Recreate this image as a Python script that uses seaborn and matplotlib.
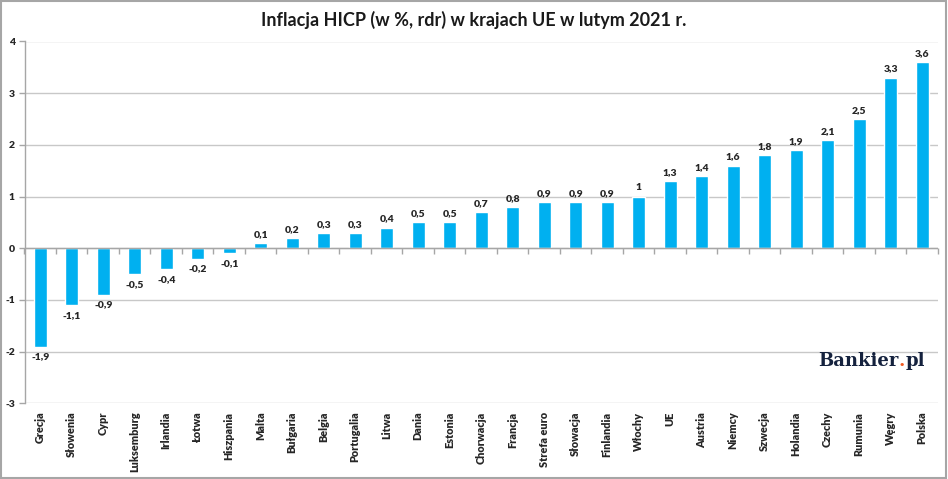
import matplotlib
matplotlib.use("Agg")
import matplotlib.pyplot as plt
import seaborn as sns
import pandas as pd
import numpy as np

countries = ["Grecja", "Słowenia", "Cypr", "Luksemburg", "Irlandia", "Łotwa", "Hiszpania",
             "Malta", "Bułgaria", "Belgia", "Portugalia", "Litwa", "Dania", "Estonia",
             "Chorwacja", "Francja", "Strefa euro", "Słowacja", "Finlandia", "Włochy", "UE",
             "Austria", "Niemcy", "Szwecja", "Holandia", "Czechy", "Rumunia", "Węgry", "Polska"]
values = [-1.9, -1.1, -0.9, -0.5, -0.4, -0.2, -0.1, 0.1, 0.2, 0.3, 0.3, 0.4, 0.5, 0.5,
          0.7, 0.8, 0.9, 0.9, 0.9, 1.0, 1.3, 1.4, 1.6, 1.8, 1.9, 2.1, 2.5, 3.3, 3.6]
yticks = [-3, -2, -1, 0, 1, 2, 3, 4]
title = "Inflacja HICP (w %, rdr) w krajach UE w lutym 2021 r."

df = pd.DataFrame({"kraj": countries, "wartosc": values})

sns.set_theme(style="white")
plt.rcParams["font.family"] = ["Lato", "DejaVu Sans"]

fig = plt.figure(figsize=(9.48, 4.79), dpi=100)
ax = fig.add_axes([24.5 / 948, 1 - 403.4 / 479, (937.8 - 24.5) / 948, (403.4 - 41.5) / 479])

sns.barplot(data=df, x="kraj", y="wartosc", color="#00B0F0", saturation=1,
            width=0.41, ax=ax, zorder=3)

small = dict(fontsize=7.5, fontweight="heavy")

ax.set_ylim(-3, 4)
ax.set_xlim(-0.5, len(countries) - 0.5)
ax.set_yticks(yticks)
ax.set_yticklabels([str(t) for t in yticks], **small)
for t in yticks:
    ax.axhline(t, color="#C8C8C8", lw=1.0, zorder=1)
ax.axhline(0, color="#A6A6A6", lw=1.0, zorder=4)

ax.set_xlabel("")
ax.set_ylabel("")
ax.set_xticks(range(len(countries)))
ax.set_xticklabels(countries, rotation=90, va="top", fontsize=7.8, fontweight="heavy")
ax.tick_params(axis="x", length=0, pad=6)
ax.tick_params(axis="y", length=4, width=1, color="#A6A6A6", pad=3, direction="out", left=True)

for s in ["top", "right", "bottom"]:
    ax.spines[s].set_visible(False)
ax.spines["left"].set_color("#A6A6A6")
ax.spines["left"].set_linewidth(1.0)

# tick marks on the zero line at category boundaries
sec = ax.secondary_xaxis(3 / 7)
sec.set_xticks(np.arange(-0.5, len(countries), 1.0))
sec.set_xticklabels([])
sec.tick_params(axis="x", length=4, width=1, color="#A6A6A6", direction="out")
sec.spines["bottom"].set_visible(False)

# value labels
for i, v in enumerate(values):
    lbl = ("%g" % v).replace(".", ",")
    if v >= 0:
        ax.annotate(lbl, (i, v), xytext=(0, 3), textcoords="offset points",
                    ha="center", va="bottom", zorder=5, **small)
    else:
        ax.annotate(lbl, (i, v), xytext=(0, -4), textcoords="offset points",
                    ha="center", va="top", zorder=5, **small)

fig.text(474 / 948, 1 - 20 / 479, title, ha="center", va="center",
         fontsize=13, fontweight="bold", color="#1a1a1a")

# Bankier.pl logo
fig.canvas.draw()
r = fig.canvas.get_renderer()
x0, y0 = 818 / 948, 1 - 366 / 479
navy = "#14213D"
fs = 13
t1 = fig.text(x0, y0, "Bankier", fontsize=fs, fontweight="bold", color=navy,
              family="DejaVu Serif", va="baseline", ha="left")
bb = t1.get_window_extent(r)
x1 = (bb.x1 + 0.5) / fig.bbox.width
t2 = fig.text(x1, y0, ".", fontsize=fs, fontweight="bold", color="#F05A22",
              family="DejaVu Serif", va="baseline", ha="left")
bb2 = t2.get_window_extent(r)
x2 = (bb2.x1 + 0.5) / fig.bbox.width
fig.text(x2, y0, "pl", fontsize=fs, fontweight="bold", color=navy,
         family="DejaVu Serif", va="baseline", ha="left")

# figure border
fig.patches.append(plt.Rectangle((0.001, 0.002), 0.997, 0.996, transform=fig.transFigure,
                                 fill=False, edgecolor="#A6A6A6", lw=1.5))

fig.savefig("out.png", dpi=100)
